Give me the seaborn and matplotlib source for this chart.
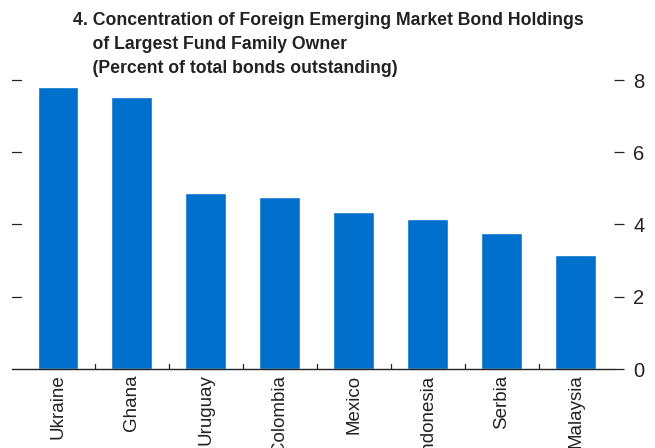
import matplotlib
matplotlib.use("Agg")
import matplotlib.pyplot as plt
import matplotlib.font_manager as fm
import seaborn as sns
import pandas as pd
import numpy as np

countries = ["Ukraine", "Ghana", "Uruguay", "Colombia", "Mexico",
             "Indonesia", "Serbia", "Malaysia"]
share = [7.81, 7.53, 4.88, 4.76, 4.35, 4.16, 3.77, 3.16]
y_ticks = [0, 2, 4, 6, 8]
title = ("4. Concentration of Foreign Emerging Market Bond Holdings\n"
         "    of Largest Fund Family Owner\n"
         "    (Percent of total bonds outstanding)")

sns.set_theme(style="white")
names = {f.name for f in fm.fontManager.ttflist}
fam = ["Liberation Sans Narrow"] if "Liberation Sans Narrow" in names else []
plt.rcParams["font.family"] = fam + ["Liberation Sans", "DejaVu Sans"]

df = pd.DataFrame({"country": countries, "share": share})

fig = plt.figure(figsize=(6.55, 4.48), dpi=100)
ax = fig.add_axes([12 / 655, 1 - 369 / 448, (614 - 12) / 655, (369 - 80) / 448])

sns.barplot(data=df, x="country", y="share", color="#0070CC", saturation=1,
            width=0.55, ax=ax)

ax.set_xlim(-0.62, 7.52)
ax.set_ylim(0, 8)
ax.set_xlabel("")
ax.set_ylabel("")

for s in ["top", "left", "right"]:
    ax.spines[s].set_visible(False)
ax.spines["bottom"].set_color("#222222")
ax.spines["bottom"].set_linewidth(1.0)

# right-hand value axis, dashes on the left side without labels
ax.yaxis.set_ticks_position("right")
ax.set_yticks(y_ticks)
ax.tick_params(axis="y", which="major", direction="out", length=7, width=0.9,
               color="#222222", labelleft=False, labelright=True,
               left=False, right=True, labelsize=14.5, pad=7,
               labelcolor="#222222")
for y in y_ticks[1:]:
    ax.plot([0.0, 0.015], [y, y], transform=ax.get_yaxis_transform(),
            color="#222222", lw=0.9, clip_on=False)

# category labels, separators between categories
ax.set_xticks(range(len(countries)))
ax.set_xticklabels(countries, rotation=90, va="top", ha="center")
ax.tick_params(axis="x", length=0, labelsize=13.5, pad=4, labelcolor="#222222")
for b in np.arange(0.5, len(countries) - 1, 1.0):
    ax.plot([b, b], [0, 0.14], color="#222222", lw=0.9)

fig.text(73 / 655, 1 - 12 / 448, title, ha="left", va="top", fontsize=12.7,
         fontweight="bold", color="#222222", linespacing=1.55)

fig.savefig("out.png", dpi=100)
